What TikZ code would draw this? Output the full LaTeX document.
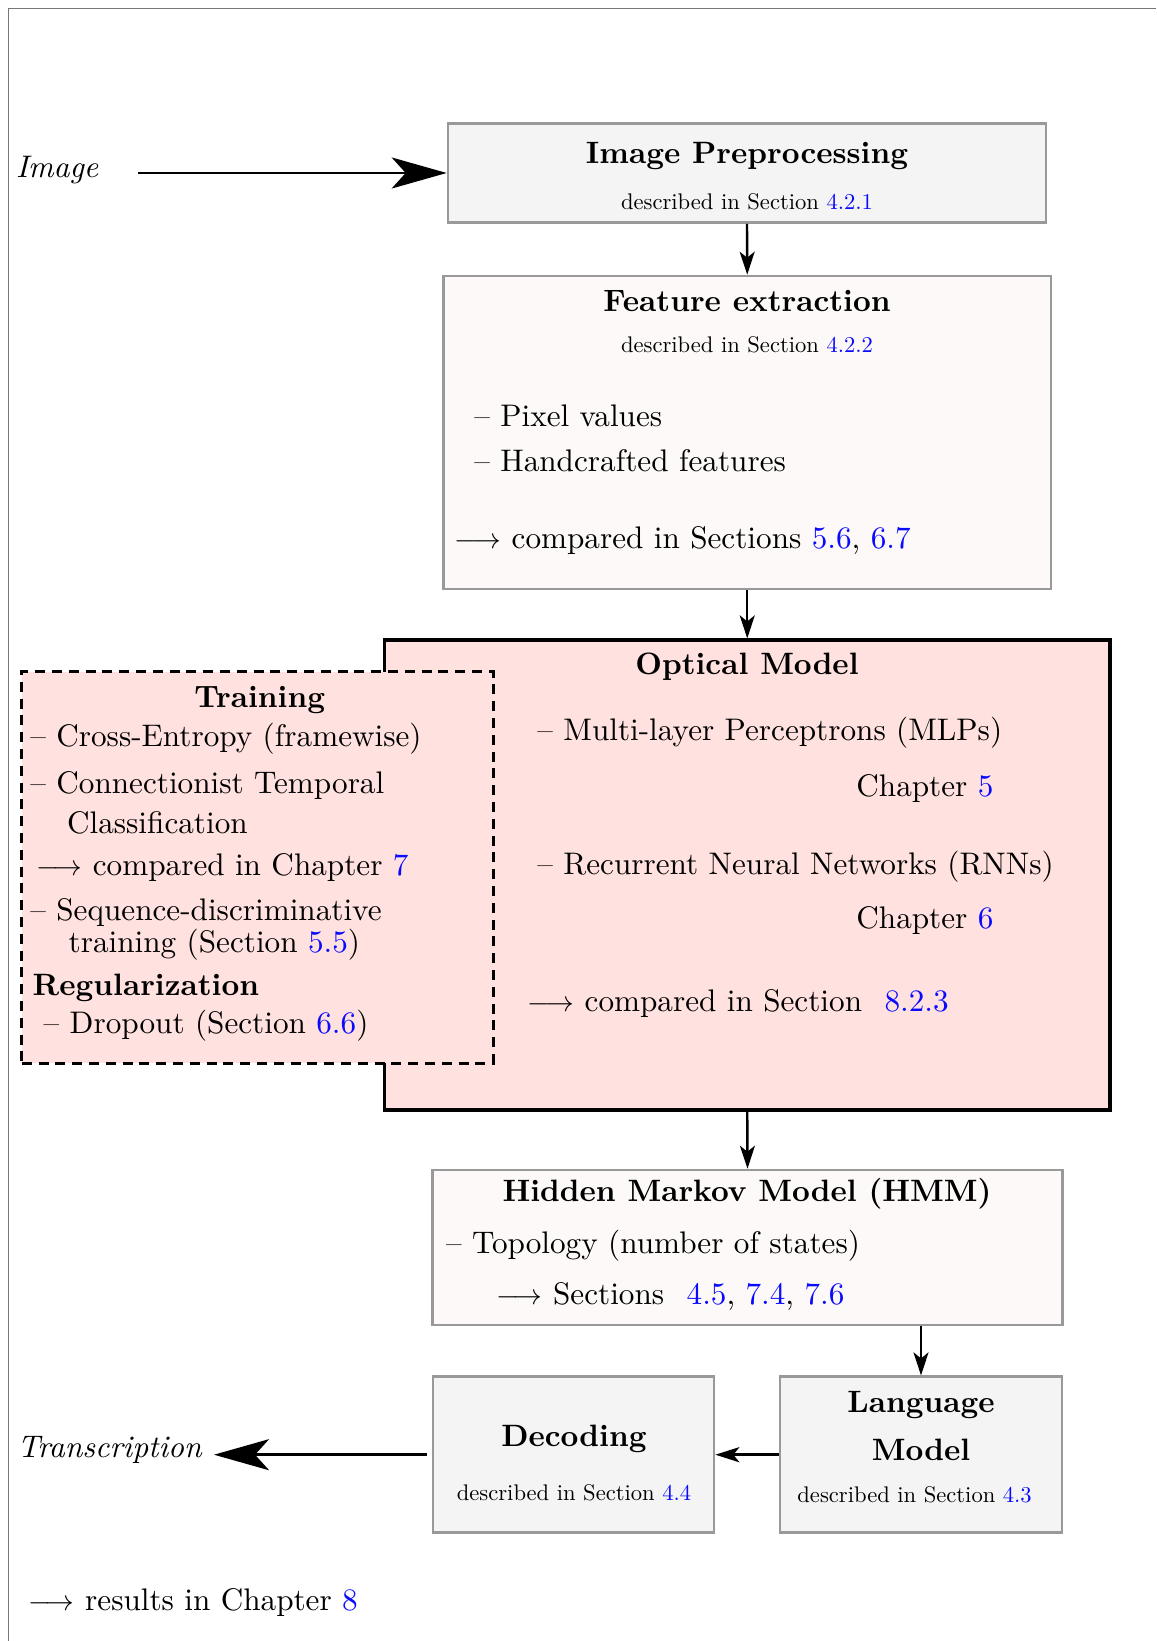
\documentclass[tikz,border=0pt]{standalone}
\usepackage{fontspec}
\setmainfont{lmroman10-regular}[Extension=.otf,BoldFont=lmroman10-bold,ItalicFont=lmroman10-italic,BoldItalicFont=lmroman10-bolditalic]
\usetikzlibrary{arrows.meta}
\definecolor{boxgray}{HTML}{F4F4F4}
\definecolor{pinkfill}{HTML}{FFE2DF}
\definecolor{snowfill}{HTML}{FDF9F8}
\definecolor{edgegray}{HTML}{999999}
\definecolor{linkblue}{HTML}{0A0AFF}
\definecolor{framegray}{HTML}{777777}
\newcommand\mainsz{\fontsize{15.6pt}{18pt}\selectfont}
\newcommand\ttlsz{\fontsize{15.45pt}{18pt}\selectfont}
\newcommand\smsz{\fontsize{11.3pt}{13pt}\selectfont}
\newcommand\lnk[1]{\textcolor{linkblue}{#1}}
\newcommand\larr{$\longrightarrow$}
\begin{document}
\begin{tikzpicture}[x=0.5pt,y=-0.5pt,
  graybox/.style={draw=edgegray,line width=1.3pt,fill=boxgray,inner sep=0pt},
  snowbox/.style={draw=edgegray,line width=1.3pt,fill=snowfill,inner sep=0pt},
  omodel/.style={draw=black,line width=1.6pt,fill=pinkfill,inner sep=0pt},
  trainbox/.style={draw=black,line width=1.5pt,fill=pinkfill,inner sep=0pt,dash pattern=on 5pt off 3.4pt},
  txt/.style={inner sep=0pt,anchor=base west,font=\mainsz},
  ttl/.style={inner sep=0pt,anchor=base,font=\ttlsz\bfseries},
  sml/.style={inner sep=0pt,anchor=base,font=\smsz},
  thinarrow/.style={line width=1.2pt,-{Stealth[length=11.5pt,width=7.5pt,inset=3pt]}},
  midarrow/.style={line width=1.6pt,-{Stealth[length=12pt,width=7.5pt,inset=3pt]}},
  bigarrow/.style={line width=1.35pt,-{Stealth[length=27.5pt,width=15.5pt,inset=7pt]}}
]
\useasboundingbox (0,0) rectangle (1156,1641);
% frame
\draw[framegray,line width=0.5pt] (1156,8.4) -- (8.4,8.4) -- (8.4,1641);

% boxes
\node[graybox,minimum width=299pt,minimum height=49.5pt] (ip) at (747,173) {};
\node[snowbox,minimum width=303.75pt,minimum height=156.5pt] (fe) at (747.25,432.5) {};
\node[omodel,minimum width=362.75pt,minimum height=235pt] (om) at (747.25,875) {};
\node[trainbox,minimum width=235.65pt,minimum height=195.65pt] (tr) at (257.35,867.35) {};
\node[snowbox,minimum width=315.1pt,minimum height=77.5pt] (hmm) at (747.5,1247.5) {};
\node[graybox,minimum width=140.5pt,minimum height=78pt] (dec) at (573.5,1454.7) {};
\node[graybox,minimum width=141pt,minimum height=78pt] (lm) at (921,1454.7) {};

% Image preprocessing
\node[ttl] (iptitle) at (747,163.3) {Image Preprocessing};
\node[sml] (ipref) at (747,210) {described in Section \lnk{4.2.1}};

% Feature extraction
\node[ttl] (fetitle) at (747,311.7) {Feature extraction};
\node[sml] (feref) at (747,352.3) {described in Section \lnk{4.2.2}};
\node[txt] (fe1) at (474,426.7) {– Pixel values};
\node[txt] (fe2) at (474,471.7) {– Handcrafted features};
\node[txt] (fe3) at (454.5,548.3) {\larr{} compared in Sections \lnk{5.6}, \lnk{6.7}};

% Optical model
\node[ttl] (omtitle) at (747,674) {Optical Model};
\node[txt] (om1) at (537,740.7) {– Multi-layer Perceptrons (MLPs)};
\node[txt] (om2) at (856,796) {Chapter \lnk{5}};
\node[txt] (om3) at (537,874) {– Recurrent Neural Networks (RNNs)};
\node[txt] (om4) at (856,928.3) {Chapter \lnk{6}};
\node[txt] (om5) at (527.5,1011.7) {\larr{} compared in Section\hspace{0.72em}\lnk{8.2.3}};

% Training
\node[ttl] (trtitle) at (259.7,707.3) {Training};
\node[txt] (tr1) at (30,746) {– Cross-Entropy (framewise)};
\node[txt] (tr2) at (30,793.3) {– Connectionist Temporal};
\node[txt] (tr3) at (66.7,833.3) {Classification};
\node[txt] (tr4) at (35.7,875) {\larr{} compared in Chapter \lnk{7}};
\node[txt] (tr5) at (30,920) {– Sequence-discriminative};
\node[txt] (tr6) at (68.3,952.3) {training (Section \lnk{5.5})};
\node[txt,font=\ttlsz\bfseries] (tr7) at (32.3,995) {Regularization};
\node[txt] (tr8) at (43.3,1033.3) {– Dropout (Section \lnk{6.6})};

% HMM
\node[ttl] (hmmtitle) at (747,1201.7) {Hidden Markov Model (HMM)};
\node[txt] (hmm1) at (445.7,1253.3) {– Topology (number of states)};
\node[txt] (hmm2) at (495.9,1304) {\larr{} Sections\hspace{0.72em}\lnk{4.5}, \lnk{7.4}, \lnk{7.6}};

% Decoding
\node[ttl] (dectitle) at (574,1446) {Decoding};
\node[sml] (decref) at (574,1500.7) {described in Section \lnk{4.4}};

% Language model
\node[ttl] (lmtitle1) at (921,1412.7) {Language};
\node[ttl] (lmtitle2) at (921,1460) {Model};
\node[sml] (lmref) at (914.6,1502.7) {described in Section \lnk{4.3}};

% outer labels
\node[txt,font=\mainsz\itshape] (imgtxt) at (15.7,178) {Image};
\node[txt,font=\mainsz\itshape] (transtxt) at (17,1457.7) {Transcription};
\node[txt] (results) at (28,1610.7) {\larr{} results in Chapter \lnk{8}};

% connectors
\coordinate (imgstart) at (138,173);
\coordinate (transend) at (214,1454.7);
\draw[bigarrow] (imgstart) -- (ip.west);
\draw[thinarrow] (ip.south) -- (fe.north);
\draw[thinarrow] (fe.south) -- (om.north);
\draw[thinarrow] (om.south) -- (hmm.north);
\draw[thinarrow] (lm.north |- hmm.south) -- (lm.north);
\draw[midarrow] (lm.west) -- (dec.east);
\draw[bigarrow,shorten <=2.6pt] (dec.west) -- (transend);
\end{tikzpicture}
\end{document}
